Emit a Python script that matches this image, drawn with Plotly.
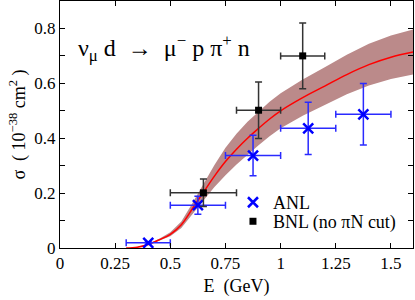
import plotly.graph_objects as go

# Theory curve (E in GeV, sigma in 1e-38 cm^2)
theory_E = [0.30, 0.35, 0.40, 0.45, 0.50, 0.55, 0.60, 0.65, 0.70, 0.75, 0.80, 0.85, 0.90, 0.95, 1.00, 1.10, 1.20, 1.30, 1.40, 1.50, 1.60]
theory_sigma = [0.0, 0.003, 0.013, 0.03, 0.05, 0.085, 0.143, 0.203, 0.262, 0.315, 0.36, 0.40, 0.436, 0.47, 0.50, 0.548, 0.59, 0.632, 0.668, 0.695, 0.714]
band_halfwidth = [0.0, 0.001, 0.002, 0.004, 0.007, 0.012, 0.02, 0.03, 0.04, 0.05, 0.056, 0.06, 0.062, 0.063, 0.064, 0.066, 0.069, 0.072, 0.076, 0.079, 0.082]

# ANL data
anl_E = [0.4, 0.625, 0.875, 1.125, 1.375]
anl_dE = [0.1, 0.125, 0.125, 0.125, 0.125]
anl_sigma = [0.019, 0.156, 0.337, 0.436, 0.487]
anl_err = [0.004, 0.033, 0.074, 0.095, 0.112]

# BNL data
bnl_E = [0.65, 0.9, 1.1]
bnl_dE = [0.15, 0.1, 0.1]
bnl_sigma = [0.201, 0.502, 0.70]
bnl_err = [0.05, 0.103, 0.12]

x_ticks = [0, 0.25, 0.5, 0.75, 1, 1.25, 1.5]
x_ticktext = ["0", "0.25", "0.5", "0.75", "1", "1.25", "1.5"]
y_ticks = [0, 0.1, 0.2, 0.3, 0.4, 0.5, 0.6, 0.7, 0.8]
y_ticktext = ["0", "", "0.2", "", "0.4", "", "0.6", "", "0.8"]

upper = [s + h for s, h in zip(theory_sigma, band_halfwidth)]
lower = [s - h for s, h in zip(theory_sigma, band_halfwidth)]

FONT = "Liberation Serif"

fig = go.Figure()
fig.add_trace(go.Scatter(x=theory_E + theory_E[::-1], y=upper + lower[::-1],
                         fill="toself", fillcolor="#bb8a8a", line=dict(width=0),
                         mode="lines", showlegend=False, hoverinfo="skip"))
fig.add_trace(go.Scatter(x=theory_E, y=theory_sigma, mode="lines",
                         line=dict(color="#ff0000", width=1.5, shape="spline"),
                         showlegend=False))
fig.add_trace(go.Scatter(x=anl_E, y=anl_sigma, mode="markers", name="ANL", legend="legend",
                         marker=dict(symbol="x-thin", size=10, color="#0000ff",
                                     line=dict(color="#0000ff", width=2.5)),
                         error_x=dict(type="data", array=anl_dE, color="#2a2aff", thickness=1.5, width=3.5),
                         error_y=dict(type="data", array=anl_err, color="#2a2aff", thickness=1.5, width=3.5)))
fig.add_trace(go.Scatter(x=bnl_E, y=bnl_sigma, mode="markers", name="BNL (no \u03c0N cut)", legend="legend2",
                         marker=dict(symbol="square", size=7, color="#000000"),
                         error_x=dict(type="data", array=bnl_dE, color="#333333", thickness=1.5, width=3.5),
                         error_y=dict(type="data", array=bnl_err, color="#333333", thickness=1.5, width=3.5)))

fig.add_annotation(x=0.072, y=0.73, xref="x", yref="y", xanchor="left", yanchor="middle",
                   text="\u03bd<sub>\u03bc</sub> d\u00a0\u00a0\u2192\u00a0\u00a0\u03bc<sup>\u2212</sup> p \u03c0<sup>+</sup> n",
                   showarrow=False, font=dict(family=FONT, size=24, color="black"))

axis_common = dict(showline=True, linecolor="black", linewidth=1, mirror="ticks",
                   ticks="inside", ticklen=5, tickcolor="black", showgrid=False, zeroline=False,
                   automargin=False,
                   tickfont=dict(family=FONT, size=17, color="black"))

legend_common = dict(xanchor="left", yanchor="middle", bgcolor="rgba(0,0,0,0)",
                     font=dict(family=FONT, size=18, color="black"), itemwidth=30,
                     borderwidth=0)

fig.update_layout(
    width=415, height=300,
    margin=dict(l=60, r=2, t=1, b=52),
    plot_bgcolor="white", paper_bgcolor="white",
    xaxis=dict(range=[0, 1.6], tickvals=x_ticks, ticktext=x_ticktext,
               title=dict(text="E\u00a0\u00a0(GeV)", font=dict(family=FONT, size=18, color="black"), standoff=6),
               **axis_common),
    yaxis=dict(range=[0, 0.9], tickvals=y_ticks, ticktext=y_ticktext,
               title=dict(text="\u03c3\u00a0\u00a0( 10<sup>\u221238</sup> cm<sup>2</sup> )", font=dict(family=FONT, size=18, color="black"), standoff=4),
               **axis_common),
    legend=dict(x=0.49, y=0.184, **legend_common),
    legend2=dict(x=0.49, y=0.107, **legend_common),
    showlegend=True,
)

fig.write_html("out.html", config={"displayModeBar": False},
               post_script="document.body.style.margin='0';document.body.style.padding='0';")
